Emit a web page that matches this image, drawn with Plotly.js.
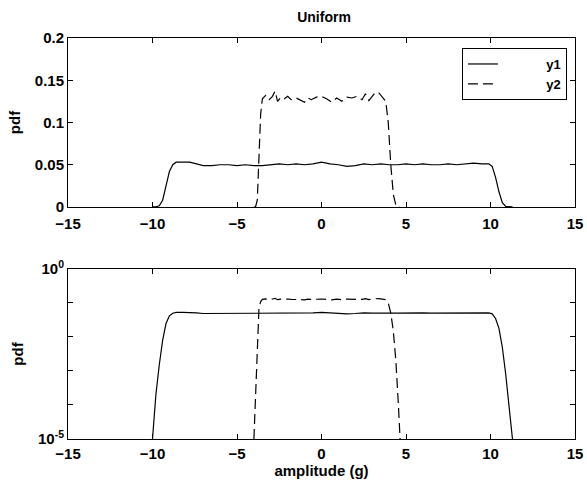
<!DOCTYPE html>
<html>
<head>
<meta charset="utf-8">
<script src="https://cdn.plot.ly/plotly-3.0.1.min.js"></script>
<style>html,body{margin:0;padding:0;background:#fff;}#chart{width:587px;height:489px;}</style>
</head>
<body>
<div id="chart"></div>
<script>
// amplitude (g) and pdf values
const x1 = [-10.0,-9.8,-9.6,-9.4,-9.2,-9.0,-8.8,-8.6,-8.2,-7.8,-7.4,-7.0,-6.5,-6.0,-5.5,-5.0,-4.5,-4.0,-3.5,-3.0,-2.5,-2.0,-1.5,-1.0,-0.5,0,0.5,1.0,1.5,2.0,2.5,3.0,3.5,4.0,4.5,5.0,5.5,6.0,6.5,7.0,7.5,8.0,8.5,9.0,9.5,9.9,10.1,10.3,10.5,10.7,10.9,11.1,11.3];
const y1 = [1e-5,2e-4,1.5e-3,0.008,0.025,0.042,0.05,0.053,0.053,0.053,0.051,0.049,0.049,0.05,0.05,0.049,0.05,0.049,0.049,0.05,0.051,0.05,0.051,0.05,0.051,0.053,0.051,0.05,0.048,0.049,0.051,0.05,0.051,0.05,0.05,0.051,0.05,0.051,0.05,0.05,0.051,0.05,0.051,0.052,0.051,0.051,0.048,0.035,0.018,0.005,8e-4,1e-4,1e-5];
const x2 = [-4.0,-3.9,-3.8,-3.75,-3.7,-3.6,-3.5,-3.3,-3.1,-2.9,-2.75,-2.6,-2.4,-2.2,-2.0,-1.8,-1.5,-1.2,-1.0,-0.8,-0.6,-0.3,0,0.3,0.6,0.9,1.2,1.5,1.8,2.1,2.4,2.6,2.8,3.0,3.2,3.4,3.6,3.8,3.95,4.1,4.25,4.4,4.55,4.65];
const y2 = [1e-5,3e-4,0.008,0.04,0.07,0.11,0.128,0.132,0.127,0.131,0.137,0.125,0.13,0.128,0.131,0.127,0.129,0.126,0.124,0.129,0.127,0.13,0.131,0.128,0.124,0.129,0.125,0.13,0.129,0.131,0.127,0.134,0.126,0.131,0.136,0.135,0.13,0.125,0.1,0.05,0.015,2e-3,1e-4,1e-5];
const names = ['y1','y2'];
const xTicks = [-15,-10,-5,0,5,10,15];
const yTopTicks = [0,0.05,0.1,0.15,0.2];
const yTopText = ['0','0.05','0.1','0.15','0.2'];
const yLogTicks = [1e-5,1e-4,1e-3,1e-2,1e-1,1];
const yLogText = ['10<sup>-5</sup>','','','','','10<sup>0</sup>'];

const nb = '\u00a0';
const pad = nb.repeat(12);
const font = {family:'Liberation Sans, Arial, sans-serif', size:15, color:'#000', weight:'bold'};
const dashStyle = '10px,5px';

const traces = [
  {x:x1, y:y1, mode:'lines', name:pad+names[0], line:{color:'#000', width:1.2}, xaxis:'x', yaxis:'y'},
  {x:x2, y:y2, mode:'lines', name:pad+names[1], line:{color:'#000', width:1.2, dash:dashStyle}, xaxis:'x', yaxis:'y'},
  {x:x1, y:y1, mode:'lines', showlegend:false, line:{color:'#000', width:1.2}, xaxis:'x2', yaxis:'y2'},
  {x:x2, y:y2, mode:'lines', showlegend:false, line:{color:'#000', width:1.2, dash:dashStyle}, xaxis:'x2', yaxis:'y2'}
];

const axBase = {showline:true, linecolor:'#000', linewidth:1, mirror:'ticks', ticks:'inside', ticklen:5, tickcolor:'#000', showgrid:false, zeroline:false, tickfont:font};

const layout = {
  width:587, height:489,
  margin:{l:68, r:12, t:38, b:50},
  paper_bgcolor:'#fff', plot_bgcolor:'#fff',
  title:{text:'Uniform', font:{family:font.family, size:14, color:'#000', weight:'bold'}, x:0.552, xanchor:'center', y:0.965, yanchor:'middle'},
  showlegend:true,
  legend:{x:0.777, y:0.975, xanchor:'left', yanchor:'top', bgcolor:'#fff', bordercolor:'#000', borderwidth:1, font:{family:font.family, size:13, color:'#000', weight:'bold'}, tracegroupgap:0},
  xaxis:Object.assign({}, axBase, {domain:[0,1], range:[-15,15], tickvals:xTicks, anchor:'y', ticklabelstandoff:3}),
  yaxis:Object.assign({}, axBase, {domain:[0.5786,1], range:[0,0.2], tickvals:yTopTicks, ticktext:yTopText, anchor:'x', title:{text:'pdf', font:font, standoff:10}}),
  xaxis2:Object.assign({}, axBase, {domain:[0,1], range:[-15,15], tickvals:xTicks, anchor:'y2', ticklabelstandoff:1, title:{text:'amplitude (g)', font:font, standoff:2}}),
  yaxis2:Object.assign({}, axBase, {domain:[0,0.424], type:'log', range:[-5,0], tickvals:yLogTicks, ticktext:yLogText, anchor:'x2', title:{text:'pdf', font:font, standoff:10}})
};

Plotly.newPlot('chart', traces, layout, {staticPlot:true, displayModeBar:false});
</script>
</body>
</html>
